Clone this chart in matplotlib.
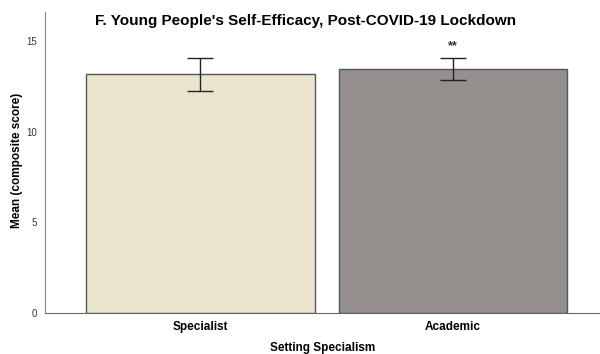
import numpy as np
import matplotlib.pyplot as plt

plt.rcParams['font.family'] = ['Liberation Sans', 'DejaVu Sans']

# group means and error-bar limits
groups = ['Specialist', 'Academic']
means = [13.18, 13.46]
err_low = [12.26, 12.87]
err_high = [14.08, 14.08]
sig = ['', '**']
colours = ['#ebe5d0', '#958f8e']

means = np.array(means)
yerr = np.array([means - np.array(err_low), np.array(err_high) - means])
x = np.arange(len(groups))

fig = plt.figure(figsize=(6, 3.54), dpi=100)
ax = fig.add_axes([0.075, 0.116, 0.925, 0.85])

ax.bar(x, means, width=0.905, color=colours, edgecolor='#555555', linewidth=1.0, zorder=2)
ax.errorbar(x, means, yerr=yerr, fmt='none', ecolor='#222222', elinewidth=1.0,
            capsize=9.7, capthick=1.0, zorder=3)
for xi, hi, s in zip(x, err_high, sig):
    if s:
        ax.text(xi, hi + 0.3, s, ha='center', va='bottom', fontsize=9,
                fontweight='bold', color='#333333')

ax.set_xlim(-0.613, 1.581)
ax.set_ylim(0, 16.6)
ax.set_yticks([0, 5, 10, 15])
ax.set_xticks(x)
ax.set_xticklabels(groups, fontsize=8.5, fontweight='bold')
ax.tick_params(axis='y', length=0, labelsize=7, labelcolor='#333333', pad=6)
ax.tick_params(axis='x', length=0, pad=6)

for side in ['top', 'right']:
    ax.spines[side].set_visible(False)
ax.spines['left'].set_color('#888888')
ax.spines['bottom'].set_color('#666666')

# axis titles placed in figure coordinates
fig.text(0.537, 0.017, 'Setting Specialism', ha='center', va='center',
         fontsize=8.5, fontweight='bold')
fig.text(0.028, 0.548, 'Mean (composite score)', ha='center', va='center',
         rotation=90, fontsize=8.5, fontweight='bold')

fig.text(0.51, 0.942, "F. Young People's Self-Efficacy, Post-COVID-19 Lockdown",
         ha='center', va='center', fontsize=11, fontweight='bold')

plt.savefig('out.png', dpi=100)
plt.close()
